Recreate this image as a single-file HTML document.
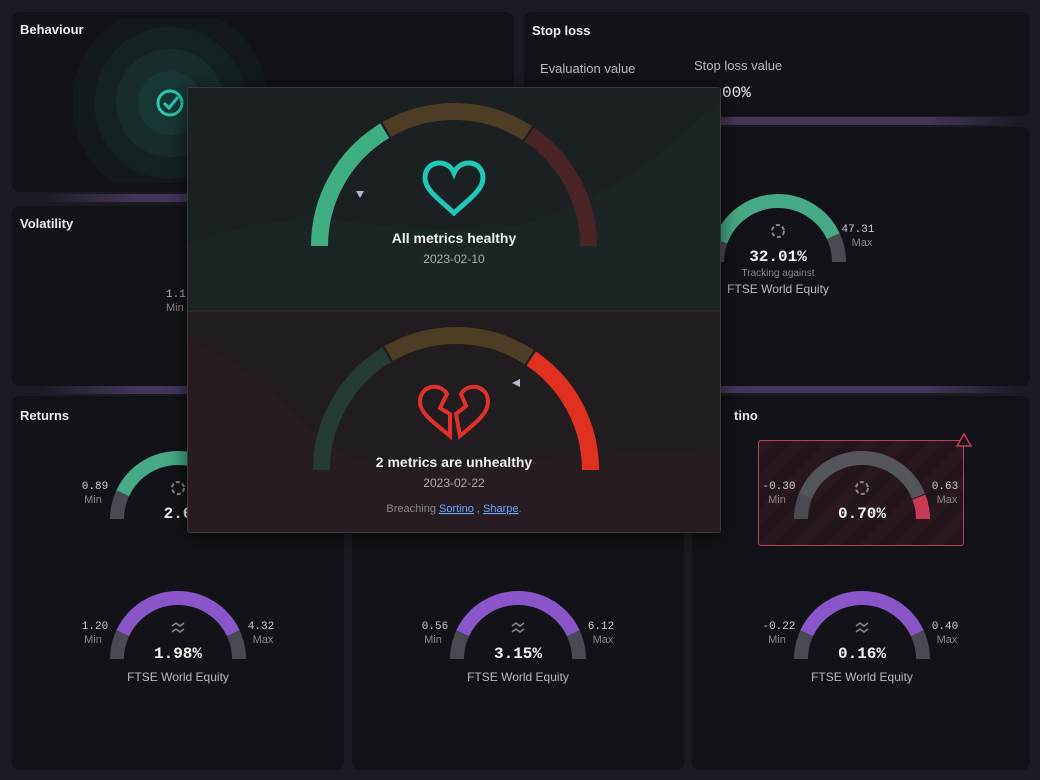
<!DOCTYPE html>
<html><head><meta charset="utf-8">
<style>
*{margin:0;padding:0;box-sizing:border-box}
body{width:1040px;height:780px;background:#1b1b24;overflow:hidden;position:relative;font-family:"Liberation Sans",sans-serif;color:#e8e8ec}
.p{position:absolute;background:#131218;border-radius:8px}
.t{position:absolute;font-size:13px;font-weight:bold;color:#ececf0}
.glow{position:absolute;height:8px;background:linear-gradient(90deg,rgba(80,60,100,0),rgba(85,65,110,.7) 20%,rgba(85,65,110,.7) 80%,rgba(80,60,100,0))}
svg{position:absolute;left:0;top:0}
.mono{font-family:"Liberation Mono",monospace}
</style></head><body>
<div class="glow" style="left:40px;top:194px;width:480px"></div>
<div class="glow" style="left:40px;top:386px;width:480px"></div>
<div class="glow" style="left:560px;top:117px;width:460px"></div>
<div class="glow" style="left:560px;top:385px;width:460px"></div>
<div class="p" style="left:12px;top:12px;width:502px;height:180px"></div>
<div class="p" style="left:12px;top:206px;width:502px;height:180px"></div>
<div class="p" style="left:524px;top:12px;width:506px;height:104px"></div>
<div class="p" style="left:524px;top:127px;width:506px;height:259px"></div>
<div class="p" style="left:12px;top:396px;width:332px;height:374px"></div>
<div class="p" style="left:352px;top:396px;width:332px;height:374px"></div>
<div class="p" style="left:692px;top:396px;width:338px;height:374px"></div>
<div class="t" style="left:20px;top:22px">Behaviour</div>
<div class="t" style="left:20px;top:216px">Volatility</div>
<div class="t" style="left:532px;top:23px">Stop loss</div>
<div class="t" style="left:20px;top:408px">Returns</div>
<div class="t" style="left:734px;top:408px">tino</div>
<div style="position:absolute;left:540px;top:61px;font-size:13px;color:#bbb">Evaluation value</div>
<div style="position:absolute;left:694px;top:58px;font-size:13px;color:#bbb">Stop loss value</div>
<div class="mono" style="position:absolute;left:722px;top:84px;font-size:16px;color:#eee">00%</div>
<div style="position:absolute;left:758px;top:440px;width:206px;height:106px;border:1px solid #c04050;border-radius:3px;background:repeating-linear-gradient(135deg,#2a1820 0 12px,#22151b 12px 24px)"></div>
<svg id="s" width="1040" height="780"></svg>
<div style="position:absolute;left:187px;top:87px;width:534px;height:446px;border:1px solid #3a3a42;border-radius:3px;background:#2a2a30;box-shadow:0 4px 20px rgba(0,0,0,.6);overflow:hidden">
 <div style="position:absolute;left:0;top:0;width:534px;height:222px;background:#1b2022"></div>
 <div style="position:absolute;left:0;top:224px;width:534px;height:222px;background:#201c20"></div>
</div>
<svg id="s2" width="1040" height="780"></svg>
<script>
function P(cx,cy,r,a){a=a*Math.PI/180;return [cx+r*Math.cos(a),cy-r*Math.sin(a)]}
function arc(cx,cy,r,w,a0,a1,c){const m=r-w/2;const p=P(cx,cy,m,a0),q=P(cx,cy,m,a1);
return `<path d="M${p[0]} ${p[1]} A${m} ${m} 0 0 1 ${q[0]} ${q[1]}" stroke="${c}" stroke-width="${w}" fill="none"/>`}
function txt(x,y,s,sz,c,a,f,w){return `<text x="${x}" y="${y}" font-size="${sz}" fill="${c}" text-anchor="${a||'middle'}" font-family="${f||'Liberation Sans'}" ${w?'font-weight="bold"':''}>${s}</text>`}
const M='Liberation Mono';
let h='';
h+=`<defs><clipPath id="bc"><rect x="73" y="19" width="194" height="164"/></clipPath></defs><g clip-path="url(#bc)">`;
[98,76,54,32].forEach((r,i)=>h+=`<circle cx="170" cy="103" r="${r}" fill="rgba(40,150,130,${0.05+i*0.02})"/>`);
h+=`</g><circle cx="170" cy="103" r="12" stroke="#2ac8b0" stroke-width="3" fill="none"/><path d="M164 103l5 5 9-11" stroke="#2ac8b0" stroke-width="3" fill="none"/>`;
h+=txt(166,297,'1.1',11,'#bbb','start',M)+txt(166,311,'Min',11,'#888','start');
function gauge(cx,cy,segs,mn,mx,val,sub,icon){
 segs.forEach(s=>h+=arc(cx,cy,68,14,s[0],s[1],s[2]));
 if(mn){h+=txt(cx-83,cy-30,mn,11,'#ccc','middle',M)+txt(cx-85,cy-16,'Min',11,'#888');}
 if(mx){h+=txt(cx+83,cy-30,mx,11,'#ccc','middle',M)+txt(cx+85,cy-16,'Max',11,'#888');}
 h+=txt(cx,cy-1,val,16,'#f2f2f2','middle',M,1);
 if(sub)h+=txt(cx,cy+22,sub,12,'#bbb');
 if(icon=='c')h+=`<circle cx="${cx}" cy="${cy-31}" r="6" stroke="#888" stroke-width="2" fill="none" stroke-dasharray="4 2.5"/>`;
 if(icon=='w')h+=`<path d="M${cx-6} ${cy-33}l4-3 4 3 4-3M${cx-6} ${cy-27}l4-3 4 3 4-3" stroke="#888" stroke-width="1.5" fill="none"/>`;
}
const G='#45aa85',PU='#8a55c8',GR='#4a4a52';
gauge(178,519,[[180,155,GR],[155,40,G]],'0.89',null,'2.6','', 'c');
gauge(778,262,[[180,160,GR],[160,25,G],[25,0,GR]],null,null,'32.01%','','c');
h+=txt(778,276,'Tracking against',10,'#888')+txt(778,293,'FTSE World Equity',12,'#bbb')+txt(858,232,'47.31',11,'#ccc','middle',M)+txt(862,246,'Max',11,'#888');
gauge(862,519,[[180,158,GR],[158,22,'#55555c'],[21,0,'#c83a55']],'-0.30','0.63','0.70%','','c');
gauge(178,659,[[180,155,GR],[155,25,PU],[25,0,GR]],'1.20','4.32','1.98%','FTSE World Equity','w');
gauge(518,659,[[180,155,GR],[155,25,PU],[25,0,GR]],'0.56','6.12','3.15%','FTSE World Equity','w');
gauge(862,659,[[180,155,GR],[155,25,PU],[25,0,GR]],'-0.22','0.40','0.16%','FTSE World Equity','w');
h+=`<path d="M964 434l-7 12h14z" stroke="#c04050" stroke-width="1.5" fill="#131218"/>`;
document.getElementById('s').innerHTML=h;
h='';
h+=`<path d="M188 245 Q270 215 340 220 Q420 235 520 225 Q620 200 720 100 V308 H188Z" fill="rgba(40,70,70,.12)"/>`;
h+=`<path d="M188 340 Q240 360 300 420 Q360 480 440 470 Q560 450 720 455 V532 H188Z" fill="rgba(70,35,45,.18)"/>`;
h+=arc(454,246,143,17,180,121,'#3fae82')+arc(454,246,143,17,120,57,'#4e3d25')+arc(454,246,143,17,56,0,'#4a2325');
h+=arc(456,470,143,17,180,121,'#243c33')+arc(456,470,143,17,120,57,'#4e3d25')+arc(456,470,143,17,56,0,'#e0301f');
h+=`<path d="M356 191h8l-4 7z" fill="#b8b8d0"/><path d="M512 383l8-4v8z" fill="#b8b8d0"/>`;
h+=`<path d="M454 213 C440 200 425 190 425 178 C425 160 448 158 454 173 C460 158 483 160 483 178 C483 190 468 200 454 213Z" stroke="#20c8b8" stroke-width="5" fill="none"/>`;
h+=`<path d="M450 436 C436 424 420 414 420 402 C420 385 440 382 447 394 L440 408 L450 414 Z M460 436 C474 424 488 414 488 402 C488 385 468 382 461 394 L466 406 L456 414Z" stroke="#e03028" stroke-width="4" fill="none"/>`;
h+=txt(454,243,'All metrics healthy',14,'#f0f0f0','middle',null,1)+txt(454,263,'2023-02-10',12,'#aaa');
h+=txt(454,467,'2 metrics are unhealthy',14,'#f0f0f0','middle',null,1)+txt(454,487,'2023-02-22',12,'#aaa');
h+=`<text x="454" y="512" font-size="11" fill="#888" text-anchor="middle" font-family="Liberation Sans">Breaching <tspan fill="#6aa8ff" text-decoration="underline">Sortino</tspan> , <tspan fill="#6aa8ff" text-decoration="underline">Sharpe</tspan>.</text>`;
document.getElementById('s2').innerHTML=h;
</script>
</body></html>
